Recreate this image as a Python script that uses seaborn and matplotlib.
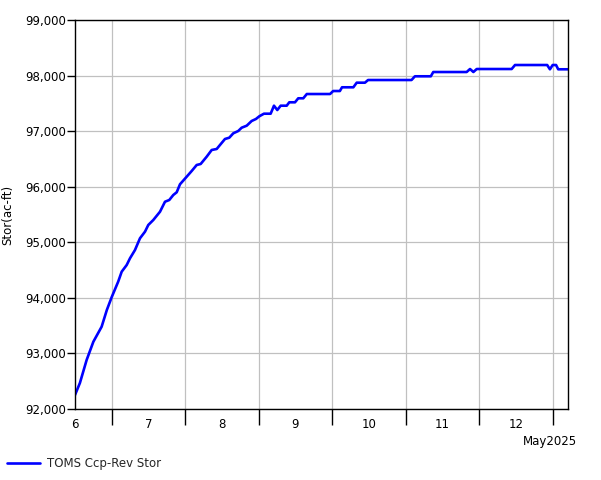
import matplotlib
matplotlib.use("Agg")
import matplotlib.pyplot as plt
import seaborn as sns
import pandas as pd
from matplotlib.ticker import FixedLocator, FuncFormatter, NullFormatter
from matplotlib.lines import Line2D

# Hours since 6 May 2025 00:00
hours = [0, 1.6, 3.8, 6.0, 8.7, 10.4, 12.0, 14.1, 15.25, 16.88, 17.96, 19.59,
         21.22, 22.86, 23.93, 25.57, 27.76, 29.39, 30.79, 32.10, 33.21, 34.29,
         36.47, 38.11, 39.74, 41.04, 43.00, 44.64, 46.27, 47.35, 48.98, 50.38,
         51.69, 53.32, 54.43, 56.07, 57.70, 59.10, 60.18, 61.71, 63.90, 64.98,
         66.06, 67.17, 69.13, 69.98, 71.84, 72.91, 74.55, 75.7, 83.3, 84.3,
         86.5, 87.2, 90.9, 92.0, 94.7, 95.7, 109.9, 111.0, 116.2, 117.0, 127.9,
         129.0, 130.1, 131.2, 142.6, 143.7, 154.2, 155.1, 156.0, 157.1, 157.8,
         161.0]
storage = [92252, 92468, 92882, 93211, 93481, 93782, 94015, 94291, 94471, 94591,
           94712, 94861, 95072, 95191, 95311, 95401, 95550, 95730, 95761, 95851,
           95900, 96044, 96180, 96283, 96391, 96409, 96540, 96661, 96679, 96751,
           96859, 96882, 96961, 97003, 97062, 97098, 97183, 97219, 97267, 97314,
           97314, 97458, 97380, 97458, 97458, 97519, 97519, 97591, 97591, 97668,
           97668, 97722, 97722, 97789, 97789, 97872, 97872, 97920, 97920, 97987,
           97987, 98064, 98064, 98118, 98064, 98118, 98118, 98190, 98190, 98113,
           98190, 98190, 98113, 98113]
day_labels = ["6", "7", "8", "9", "10", "11", "12"]
y_ticks = [92000, 93000, 94000, 95000, 96000, 97000, 98000, 99000]
series_name = "TOMS Ccp-Rev Stor"

df = pd.DataFrame({"hours": hours, "storage": storage, "series": series_name})

sns.set_theme(style="white")
plt.rcParams["font.family"] = ["DejaVu Sans"]
fs = 8.5

fig = plt.figure(figsize=(6.01, 4.80), dpi=100)
ax = fig.add_axes([75 / 601, 1 - 409 / 480, (568 - 75) / 601, (409 - 20) / 480])

sns.lineplot(data=df, x="hours", y="storage", hue="series", palette=["#0000ff"],
             linewidth=1.9, ax=ax, legend=False)

ax.set_xlim(0, 161)
ax.set_ylim(92000, 99000)

major_x = [12 + 24 * k for k in range(7)]
minor_x = [24 * k for k in range(len(day_labels))]
ax.xaxis.set_major_locator(FixedLocator(major_x))
ax.xaxis.set_major_formatter(NullFormatter())
ax.xaxis.set_minor_locator(FixedLocator(minor_x))
ax.xaxis.set_minor_formatter(FuncFormatter(lambda v, p: day_labels[int(round(v / 24))]))
ax.tick_params(axis="x", which="major", length=11.5, width=1, color="black", direction="out", bottom=True)
ax.tick_params(axis="x", which="minor", length=0, pad=6.5, labelsize=fs, labelcolor="black")

ax.set_yticks(y_ticks)
ax.yaxis.set_major_formatter(FuncFormatter(lambda v, p: f"{int(v):,}"))
ax.tick_params(axis="y", which="major", length=5.5, width=1, color="black", direction="out",
               left=True, pad=1, labelsize=fs, labelcolor="black")

ax.grid(True, which="major", color="#c0c0c0", linewidth=0.9)
for s in ax.spines.values():
    s.set_color("black")
    s.set_linewidth(1.0)

ax.set_xlabel("")
ax.set_ylabel("Stor(ac-ft)", fontsize=fs, color="black")
ax.yaxis.set_label_coords(-61 / 493, 0.5)

fig.text(577 / 601, 1 - 441 / 480, "May2025", ha="right", va="center", fontsize=fs, color="black")

handle = Line2D([], [], color="#0000ff", linewidth=1.9)
fig.legend([handle], [series_name], loc="center left", bbox_to_anchor=(7 / 601, 1 - 464 / 480),
           frameon=False, fontsize=fs, handlelength=2.8, handletextpad=0.6,
           borderpad=0, borderaxespad=0)

fig.savefig("out.png", dpi=100, facecolor="white")
